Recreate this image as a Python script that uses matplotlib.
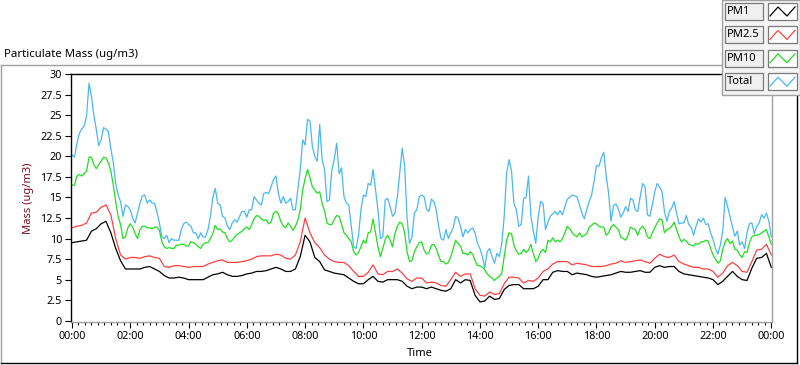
import numpy as np
import matplotlib
matplotlib.use("Agg")
import matplotlib.pyplot as plt
from matplotlib.lines import Line2D
from matplotlib.patches import Rectangle
from matplotlib.ticker import MultipleLocator, FuncFormatter

plt.rcParams['font.family'] = ['Noto Sans', 'DejaVu Sans']

# PM1 / PM2.5: one sample every 10 minutes, 00:00 -> 24:00
pm1 = [9.5, 9.6, 9.7, 9.8, 10.9, 11.2, 11.8, 12.1, 10.7, 8.8,
       7.3, 6.3, 6.3, 6.3, 6.3, 6.5, 6.6, 6.3, 6.0, 5.5,
       5.2, 5.2, 5.3, 5.2, 5.0, 5.0, 5.0, 5.0, 5.3, 5.6,
       5.7, 5.9, 5.6, 5.4, 5.4, 5.5, 5.7, 5.8, 6.0, 6.0,
       6.1, 6.3, 6.5, 6.3, 6.0, 6.0, 6.3, 7.8, 10.4, 9.6,
       7.7, 7.2, 6.2, 6.0, 5.8, 5.7, 5.6, 5.2, 4.8, 4.5,
       4.5, 5.0, 5.4, 4.8, 4.7, 5.0, 5.0, 5.0, 4.8, 4.2,
       3.9, 4.1, 4.1, 3.9, 4.1, 3.9, 3.7, 3.6, 3.9, 5.0,
       4.6, 5.0, 4.9, 3.1, 2.3, 2.4, 3.0, 2.6, 2.7, 3.8,
       4.3, 4.4, 4.4, 3.9, 3.9, 3.9, 4.2, 5.0, 5.0, 5.9,
       6.1, 6.0, 6.0, 5.6, 5.8, 5.7, 5.6, 5.4, 5.3, 5.4,
       5.5, 5.6, 5.8, 6.0, 5.9, 5.9, 6.0, 6.1, 5.9, 5.9,
       6.5, 6.7, 6.5, 6.6, 6.6, 6.0, 5.7, 5.6, 5.5, 5.4,
       5.3, 5.2, 5.0, 4.4, 4.8, 5.4, 6.0, 5.4, 5.0, 4.9,
       6.4, 7.6, 7.7, 8.2, 6.5]

pm25 = [11.3, 11.5, 11.6, 11.9, 13.1, 13.2, 13.8, 14.1, 12.9, 10.0,
        8.0, 7.5, 7.7, 7.7, 7.6, 7.8, 7.9, 7.7, 7.6, 6.6,
        6.5, 6.7, 6.7, 6.6, 6.5, 6.6, 6.6, 6.6, 6.9, 7.1,
        7.3, 7.4, 7.1, 7.1, 7.1, 7.2, 7.3, 7.5, 7.8, 7.9,
        7.9, 7.9, 8.1, 8.0, 7.6, 7.5, 8.0, 9.6, 12.5, 10.7,
        9.5, 8.9, 8.0, 7.5, 7.2, 7.1, 7.1, 6.7, 6.0, 5.4,
        5.4, 5.9, 6.8, 5.7, 5.6, 6.0, 6.0, 6.3, 5.8, 5.1,
        4.8, 5.2, 5.2, 4.6, 4.7, 4.6, 4.3, 4.2, 5.0, 5.9,
        5.4, 5.7, 5.7, 3.9, 3.1, 3.0, 3.5, 3.2, 3.3, 4.5,
        5.3, 5.3, 5.2, 4.6, 4.9, 4.8, 5.2, 6.0, 6.3, 6.9,
        7.2, 7.2, 7.2, 6.8, 7.0, 6.9, 6.8, 6.6, 6.6, 6.6,
        6.7, 6.9, 7.0, 7.3, 7.1, 7.2, 7.3, 7.4, 7.2, 7.0,
        7.6, 8.1, 7.8, 7.7, 8.0, 7.2, 6.9, 6.7, 6.5, 6.5,
        6.3, 6.3, 6.0, 5.3, 5.8, 6.7, 7.1, 6.7, 6.0, 5.9,
        7.2, 8.6, 8.7, 9.3, 8.0]

# PM10 / Total: one sample every 5 minutes (12 per row = 1 hour)
pm10 = [16.5, 16.5, 17.6, 17.8, 17.6, 17.9, 18.2, 19.9, 19.9, 19.0, 18.5, 19.0,
        19.4, 19.9, 19.8, 19.2, 18.2, 16.5, 14.5, 12.7, 11.7, 10.0, 10.2, 11.3,
        11.8, 11.4, 10.6, 10.0, 11.1, 11.5, 11.5, 11.3, 11.3, 11.2, 11.4, 11.4,
        11.0, 9.6, 9.0, 8.8, 8.9, 8.8, 8.8, 9.2, 9.2, 9.3, 9.3, 9.1,
        9.1, 9.6, 9.5, 9.3, 9.0, 8.8, 9.3, 9.5, 9.5, 10.0, 10.6, 11.6,
        11.1, 11.2, 10.8, 10.7, 10.0, 9.6, 9.8, 10.2, 10.5, 10.7, 10.9, 11.2,
        11.4, 11.1, 11.7, 12.4, 12.8, 12.7, 12.4, 12.2, 12.3, 11.8, 12.0, 13.1,
        13.3, 13.0, 12.1, 11.5, 11.3, 11.9, 11.5, 11.0, 11.5, 12.2, 13.5, 15.9,
        17.3, 18.4, 17.4, 16.3, 15.9, 15.5, 15.7, 14.3, 13.4, 11.9, 11.7, 11.7,
        12.3, 12.8, 12.7, 11.8, 10.7, 10.4, 10.0, 9.6, 8.4, 8.0, 8.3, 9.0,
        9.8, 9.4, 10.7, 10.8, 12.4, 10.7, 9.0, 7.8, 8.8, 9.9, 10.4, 9.8,
        9.0, 10.6, 11.5, 12.0, 11.8, 10.7, 8.4, 7.2, 7.3, 8.4, 9.0, 9.5,
        9.6, 8.6, 8.1, 8.3, 9.2, 9.3, 8.8, 7.9, 7.2, 7.2, 6.9, 7.1,
        7.8, 8.8, 9.8, 9.4, 9.1, 8.2, 8.2, 8.0, 8.4, 8.1, 7.3, 6.7,
        6.7, 6.5, 6.2, 5.7, 5.4, 5.2, 4.9, 5.2, 5.4, 5.8, 7.8, 9.8,
        10.7, 10.6, 9.2, 8.5, 8.1, 8.2, 8.7, 8.3, 8.6, 9.3, 8.2, 7.2,
        7.6, 8.4, 8.7, 8.3, 9.8, 9.6, 10.1, 9.6, 9.8, 9.6, 10.0, 10.7,
        11.5, 11.2, 10.7, 10.4, 10.2, 10.7, 10.2, 10.4, 10.6, 11.4, 11.6, 11.9,
        11.8, 11.5, 11.4, 11.4, 10.4, 10.7, 11.4, 11.7, 11.4, 11.1, 10.2, 10.0,
        9.8, 10.4, 11.4, 11.2, 11.1, 10.4, 11.2, 11.5, 11.1, 10.2, 10.0, 10.7,
        11.3, 11.9, 12.4, 12.3, 10.7, 11.1, 11.2, 11.5, 12.0, 11.1, 10.2, 9.6,
        9.9, 9.7, 9.3, 9.2, 9.1, 9.4, 9.3, 9.6, 9.6, 9.8, 9.7, 8.8,
        8.0, 7.5, 7.0, 7.3, 8.7, 9.6, 10.0, 9.4, 9.7, 8.7, 8.6, 8.0,
        7.7, 8.4, 8.3, 9.5, 10.2, 10.4, 10.4, 10.5, 10.7, 10.9, 11.1, 10.2,
        9.3]

total = [20.2, 19.9, 21.5, 22.8, 23.3, 23.7, 24.9, 28.9, 27.3, 25.0, 23.3, 21.3,
         22.0, 23.5, 23.3, 23.0, 20.9, 19.3, 16.7, 15.3, 14.5, 12.7, 14.1, 13.9,
         13.5, 12.5, 11.9, 13.1, 14.3, 15.2, 15.3, 14.3, 14.7, 14.3, 14.3, 13.2,
         11.9, 10.2, 10.0, 10.4, 9.5, 10.0, 9.8, 9.8, 9.8, 11.1, 11.8, 12.0,
         11.7, 11.5, 10.7, 10.7, 10.0, 10.7, 10.2, 10.2, 11.1, 12.7, 15.0, 16.1,
         14.3, 14.1, 12.7, 12.5, 11.5, 11.1, 11.9, 12.3, 12.0, 12.7, 13.3, 13.3,
         12.6, 13.5, 13.5, 15.1, 14.7, 14.3, 14.1, 15.5, 15.6, 15.5, 16.3, 17.2,
         17.6, 15.5, 14.3, 15.1, 14.3, 14.5, 14.9, 13.5, 13.5, 15.9, 18.4, 22.0,
         21.4, 24.5, 24.3, 21.2, 20.0, 19.4, 23.9, 19.6, 18.4, 14.5, 14.7, 18.3,
         19.6, 21.6, 17.9, 18.6, 15.1, 14.3, 14.1, 11.5, 9.0, 8.8, 10.4, 13.5,
         15.3, 15.1, 16.7, 16.5, 18.4, 15.9, 13.5, 10.0, 10.2, 14.7, 14.9, 13.9,
         12.7, 13.1, 15.1, 18.0, 21.0, 18.8, 12.5, 9.4, 10.2, 13.1, 13.5, 15.1,
         15.3, 15.1, 13.6, 13.3, 14.8, 14.5, 13.5, 11.5, 10.0, 9.8, 11.1, 10.0,
         10.7, 11.3, 12.7, 12.5, 11.5, 10.2, 11.1, 10.7, 11.1, 11.3, 10.7, 9.4,
         8.8, 7.8, 6.4, 8.4, 8.8, 7.8, 7.0, 8.2, 7.8, 9.4, 12.7, 18.0,
         19.6, 18.2, 14.3, 13.5, 11.5, 11.7, 14.9, 15.0, 17.6, 12.7, 10.9, 9.4,
         12.7, 14.5, 14.3, 11.1, 12.0, 12.7, 13.0, 13.3, 12.9, 13.4, 12.9, 13.9,
         14.8, 15.0, 15.3, 15.2, 15.1, 14.1, 13.1, 12.4, 13.5, 14.5, 15.3, 17.0,
         18.9, 18.8, 19.8, 20.5, 17.6, 15.5, 12.1, 14.0, 14.2, 13.6, 12.6, 13.1,
         13.9, 13.3, 14.9, 14.7, 13.5, 13.3, 15.1, 16.7, 16.3, 12.9, 12.7, 14.1,
         15.7, 16.7, 16.3, 15.7, 13.3, 12.1, 13.3, 13.7, 14.5, 13.1, 11.8, 11.9,
         11.9, 12.8, 11.7, 11.4, 10.4, 11.5, 12.4, 12.0, 12.5, 11.7, 11.8, 10.7,
         9.9, 8.8, 8.1, 9.2, 10.9, 15.0, 13.9, 12.7, 11.4, 10.3, 10.9, 9.2,
         9.6, 8.8, 10.7, 11.8, 11.9, 10.6, 11.5, 11.9, 12.9, 12.5, 13.1, 12.1,
         10.2]

names = ["PM1", "PM2.5", "PM10", "Total"]
colors = ["#000000", "#ff4040", "#1ee01e", "#48b8f4"]
series = [pm1, pm25, pm10, total]

W, H = 800, 365
fig = plt.figure(figsize=(W / 100, H / 100), dpi=100)
fig.patch.set_facecolor("white")


def fx(px):
    return px / W


def fy(py):
    return 1 - py / H


ax = fig.add_axes([fx(71), fy(322), fx(772) - fx(71), fy(74) - fy(322)])
for vals, c in zip(series, colors):
    # samples are evenly spread over the 24 hours
    t = np.linspace(0, 24, len(vals))
    ax.plot(t, vals, color=c, lw=0.9)

ax.set_xlim(-1 / 29.1, 24 + 0.7 / 29.1)
ax.set_ylim(-0.15, 30.02)
ax.xaxis.set_major_locator(MultipleLocator(2))
ax.xaxis.set_minor_locator(MultipleLocator(2 / 9))
ax.xaxis.set_major_formatter(FuncFormatter(lambda v, p: "%02d:00" % (int(round(v)) % 24)))
ax.yaxis.set_major_locator(MultipleLocator(2.5))
ax.yaxis.set_major_formatter(FuncFormatter(lambda v, p: "%g" % v))
ax.tick_params(axis="both", which="major", direction="out", length=4.5, width=0.8,
               labelsize=7.8, pad=2, colors="black")
ax.tick_params(axis="x", which="minor", direction="out", length=2.5, width=0.8)
for s in ["top", "left"]:
    ax.spines[s].set_color("black")
for s in ["right", "bottom"]:
    ax.spines[s].set_color("#a0a0a0")
for s in ax.spines.values():
    s.set_linewidth(1.0)

fig.text(fx(4), fy(55), "Particulate Mass (ug/m3)", ha="left", va="center", fontsize=8.2)
fig.text(fx(29), fy(198), "Mass (ug/m3)", rotation=90, ha="center", va="center",
         fontsize=8, color="#7a0e1e")
fig.text(fx(420), fy(354), "Time", ha="center", va="center", fontsize=8)


# outer frame
def fline(xs, ys, c):
    fig.add_artist(Line2D([fx(v) for v in xs], [fy(v) for v in ys], color=c, lw=1.0))


fline([1, 722], [65, 65], "#a0a0a0")
fline([1, 1], [65, 363], "#a0a0a0")
fline([1, 797], [363, 363], "black")
fline([797, 797], [95, 363], "black")

# legend panel
fig.add_artist(Rectangle((fx(722), fy(95)), fx(800) - fx(722), fy(0) - fy(95),
                         transform=fig.transFigure, facecolor="#f4f4f4",
                         edgecolor="#a0a0a0", lw=1.0, zorder=5))
for i, (name, c) in enumerate(zip(names, colors)):
    top = 3 + i * 23.4
    fig.add_artist(Rectangle((fx(725), fy(top + 17)), fx(763) - fx(725), fy(top) - fy(top + 17),
                             transform=fig.transFigure, facecolor="#f0f0f0",
                             edgecolor="#7a7a7a", lw=0.9, zorder=6))
    fig.text(fx(727), fy(top + 8.5), name, ha="left", va="center", fontsize=8, zorder=7)
    fig.add_artist(Rectangle((fx(768), fy(top + 17)), fx(797) - fx(768), fy(top) - fy(top + 17),
                             transform=fig.transFigure, facecolor="white",
                             edgecolor="#7a7a7a", lw=0.9, zorder=6))
    fig.add_artist(Line2D([fx(v) for v in [770, 778, 787, 795]],
                          [fy(v) for v in [top + 13, top + 4, top + 13, top + 4]],
                          color=c, lw=0.9, zorder=7))

fig.savefig("out.png", dpi=100, facecolor=fig.get_facecolor())
